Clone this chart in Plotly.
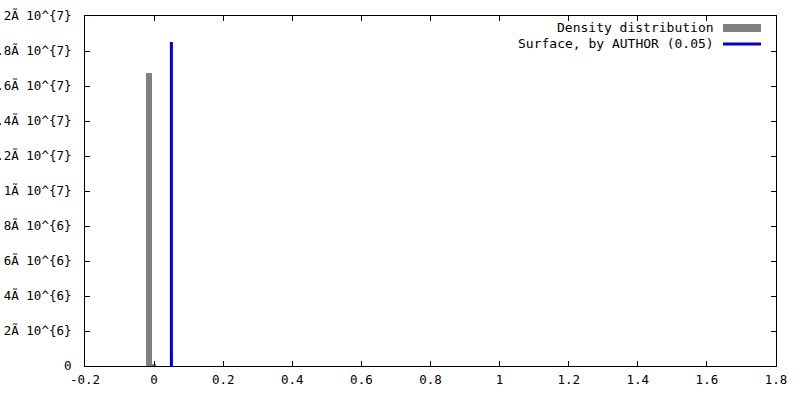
import plotly.graph_objects as go

# Data
bar_centers = [-0.0135, 0.0006]
bar_widths = [0.0174, 0.0116]
bar_values = [1.674e7, 6.0e4]

surface_x = [0.05, 0.05]
surface_y = [0, 1.851e7]

x_ticks = [-0.2, 0, 0.2, 0.4, 0.6, 0.8, 1.0, 1.2, 1.4, 1.6, 1.8]
x_labels = ["-0.2", "0", "0.2", "0.4", "0.6", "0.8", "1", "1.2", "1.4", "1.6", "1.8"]
y_ticks = [0, 2e6, 4e6, 6e6, 8e6, 1e7, 1.2e7, 1.4e7, 1.6e7, 1.8e7, 2e7]
y_labels = ["0", "2Ã 10^{6}", "4Ã 10^{6}", "6Ã 10^{6}", "8Ã 10^{6}", "1Ã 10^{7}",
            "1.2Ã 10^{7}", "1.4Ã 10^{7}", "1.6Ã 10^{7}", "1.8Ã 10^{7}", "2Ã 10^{7}"]

names = ["Density distribution", "Surface, by AUTHOR (0.05)"]
GRAY = "#808080"
BLUE = "#0000cd"
FONT = "DejaVu Sans Mono"

fig = go.Figure()
fig.add_trace(go.Bar(x=bar_centers, y=bar_values, width=bar_widths,
                     marker=dict(color=GRAY, line=dict(width=0)),
                     name=names[0], showlegend=False))
fig.add_trace(go.Scatter(x=surface_x, y=surface_y, mode="lines",
                         line=dict(color=BLUE, width=3),
                         name=names[1], showlegend=False, cliponaxis=False))

W, H = 800, 400
L, R, T, B = 85, 24, 16, 34
pw, ph = W - L - R, H - T - B

def px(x):  # screen pixel -> paper fraction
    return (x - L) / pw

def py(y):
    return (H - B - y) / ph

# manual legend (text right, sample on the right like gnuplot)
rows_y = [28, 44]
for nm, yy in zip(names, rows_y):
    fig.add_annotation(x=px(716), y=py(yy), xref="paper", yref="paper",
                       text=nm, showarrow=False, xanchor="right", yanchor="middle",
                       font=dict(family=FONT, size=13, color="black"))
fig.add_shape(type="rect", xref="paper", yref="paper",
              x0=px(723), x1=px(761), y0=py(24), y1=py(32),
              fillcolor=GRAY, line=dict(width=0))
fig.add_shape(type="line", xref="paper", yref="paper",
              x0=px(723), x1=px(761), y0=py(44), y1=py(44),
              line=dict(color=BLUE, width=3))

axis_common = dict(showline=True, linecolor="black", linewidth=1, mirror="ticks",
                   ticks="inside", ticklen=5, tickcolor="black", showgrid=False,
                   zeroline=False, tickfont=dict(family=FONT, size=12.5, color="black"))

fig.update_layout(
    width=W, height=H,
    margin=dict(l=L, r=R, t=T, b=B, autoexpand=False),
    paper_bgcolor="white", plot_bgcolor="white",
    xaxis=dict(range=[-0.2, 1.8], tickvals=x_ticks, ticktext=x_labels,
               ticklabelstandoff=2, **axis_common),
    yaxis=dict(range=[0, 2e7], tickvals=y_ticks, ticktext=y_labels,
               ticklabelstandoff=10, automargin=False, **axis_common),
    bargap=0,
)

fig.write_html("out.html", config={"displayModeBar": False},
               post_script="document.body.style.margin='0px';")
